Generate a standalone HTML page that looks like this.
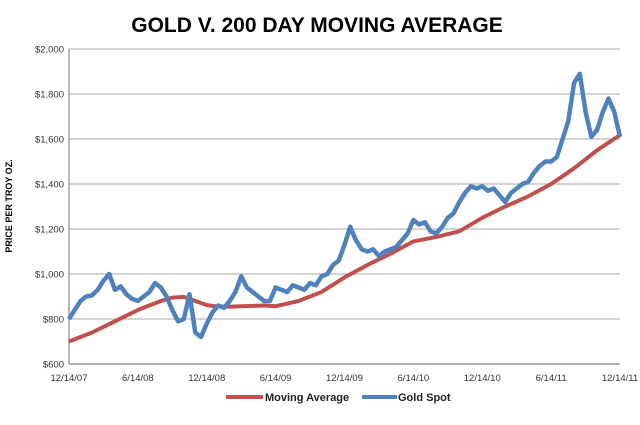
<!DOCTYPE html>
<html><head><meta charset="utf-8">
<style>
html,body{margin:0;padding:0;background:#fff;}
svg{display:block;}
text{font-family:"Liberation Sans",sans-serif;}
</style></head>
<body>
<svg id="chart" width="640" height="425" viewBox="0 0 640 425">
<text x="317" y="32" text-anchor="middle" font-size="21" font-weight="bold" fill="#000">GOLD V. 200 DAY MOVING AVERAGE</text>
<text transform="translate(12,206) rotate(-90)" text-anchor="middle" font-size="9" font-weight="bold" fill="#000">PRICE PER TROY OZ.</text>
<g id="grid"></g>
<g id="yticks"></g>
<g id="xticks"></g>
<g id="series"></g>
<g>
<line x1="226" y1="397" x2="263" y2="397" stroke="#c0504d" stroke-width="4"/>
<text x="265" y="401" font-size="11" font-weight="bold" fill="#222">Moving Average</text>
<line x1="362" y1="397" x2="397" y2="397" stroke="#4f81bd" stroke-width="4"/>
<text x="398" y="401" font-size="11" font-weight="bold" fill="#222">Gold Spot</text>
</g>
</svg>
<script>
const xTickLabels = ["12/14/07","6/14/08","12/14/08","6/14/09","12/14/09","6/14/10","12/14/10","6/14/11","12/14/11"];
const yTickValues = [600,800,1000,1200,1400,1600,1800,2000];
// gold spot, half-month steps from 12/14/07 (month 0) to 12/14/11 (month 48)
const goldSpot = [
800,840,880,900,905,930,970,1000,930,945,910,890,
880,900,920,960,940,900,840,790,800,910,740,720,
780,830,860,850,880,920,990,940,920,900,880,880,
940,930,920,950,940,930,960,950,990,1000,1040,1060,
1130,1210,1150,1110,1100,1110,1080,1100,1110,1120,1150,1180,
1240,1220,1230,1190,1180,1210,1250,1270,1320,1360,1390,1380,
1390,1370,1380,1350,1320,1360,1380,1400,1410,1450,1480,1500,
1500,1520,1600,1680,1850,1890,1720,1610,1640,1720,1780,1720,
1610];
const maMonths = [0,2,4,6,8,9,10,11,12,13,14,16,17,18,20,22,24,26,28,30,32,34,36,38,40,42,44,46,48];
const movingAverage = [700,740,790,840,880,895,898,880,862,855,855,858,860,857,880,920,985,1040,1090,1145,1165,1190,1250,1300,1345,1400,1470,1550,1618];
</script>
<script>
const NS = "http://www.w3.org/2000/svg";
const X0 = 69, X1 = 620, Y600 = 364, PX200 = 45;
const xScale = m => X0 + (m / 48) * (X1 - X0);
const yScale = v => Y600 - (v - 600) / 200 * PX200;
const grid = document.getElementById('grid');
const yt = document.getElementById('yticks');
const xt = document.getElementById('xticks');
const ser = document.getElementById('series');
function mk(tag, attrs, parent) {
  const e = document.createElementNS(NS, tag);
  for (const k in attrs) e.setAttribute(k, attrs[k]);
  parent.appendChild(e);
  return e;
}
yTickValues.forEach(v => {
  const y = yScale(v);
  const l = mk('line', {x1: X0, x2: X1, y1: y, y2: y, stroke: v === 600 ? '#888' : '#bbb', 'stroke-width': 1.2}, grid);
  
  
  const t = mk('text', {x: X0 - 5, y: y + 3.5, 'text-anchor': 'end', 'font-size': 9.5, fill: '#333'}, yt);
  t.textContent = '$' + v.toLocaleString('en-US');
  
  
});
const ax = mk('line', {x1: X0, x2: X0, y1: yScale(2000), y2: Y600, stroke: '#888', 'stroke-width': 1.2}, grid);


xTickLabels.forEach((lab, i) => {
  const t = mk('text', {x: xScale(i * 6), y: 381, 'text-anchor': 'middle', 'font-size': 9.5, fill: '#333'}, xt);
  t.textContent = lab;
  
  
});
const ma = mk('path', {d: maMonths.map((m, i) => (i ? 'L' : 'M') + xScale(m).toFixed(1) + ',' + yScale(movingAverage[i]).toFixed(1)).join(''), fill: 'none', stroke: '#c0504d', 'stroke-width': 4, 'stroke-linejoin': 'round'}, ser);


const step = 48 / (goldSpot.length - 1);
const gd = mk('path', {d: goldSpot.map((v, i) => (i ? 'L' : 'M') + xScale(i * step).toFixed(1) + ',' + yScale(v).toFixed(1)).join(''), fill: 'none', stroke: '#4f81bd', 'stroke-width': 4.5, 'stroke-linejoin': 'round'}, ser);


</script>
</body></html>
